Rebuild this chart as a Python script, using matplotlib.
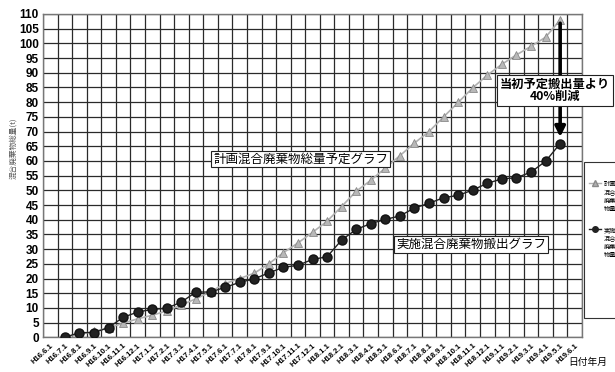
import matplotlib
matplotlib.use("Agg")
import matplotlib.pyplot as plt
from matplotlib.patches import Rectangle
from matplotlib.lines import Line2D
import numpy as np

plt.rcParams['font.family'] = ['Liberation Sans', 'Noto Sans CJK JP', 'DejaVu Sans']

labels = ["H16.6.1", "H16.7.1", "H16.8.1", "H16.9.1", "H16.10.1", "H16.11.1", "H16.12.1",
          "H17.1.1", "H17.2.1", "H17.3.1", "H17.4.1", "H17.5.1", "H17.6.1", "H17.7.1",
          "H17.8.1", "H17.9.1", "H17.10.1", "H17.11.1", "H17.12.1",
          "H18.1.1", "H18.2.1", "H18.3.1", "H18.4.1", "H18.5.1", "H18.6.1", "H18.7.1",
          "H18.8.1", "H18.9.1", "H18.10.1", "H18.11.1", "H18.12.1",
          "H19.1.1", "H19.2.1", "H19.3.1", "H19.4.1", "H19.5.1", "H19.6.1"]

# values start at H16.7.1 (index 1) and end at H19.5.1
plan = [0, 1.0, 2.0, 3.2, 4.8, 6.3, 7.5, 9.0, 11.0, 13.1, 15.5, 18.3, 20.0, 21.8,
        25.0, 28.8, 32.1, 35.7, 39.5, 44.5, 49.7, 53.4, 57.6, 61.8, 66.1, 70.0,
        75.0, 79.9, 84.9, 89.2, 92.9, 96.1, 99.0, 102.1, 108.0]
actual = [0, 1.6, 1.6, 3.3, 6.8, 8.6, 9.5, 9.9, 12.0, 15.4, 15.4, 17.0, 18.7, 19.9,
          21.9, 23.8, 24.5, 26.5, 27.4, 33.1, 36.7, 38.7, 40.1, 41.3, 44.0, 45.6,
          47.5, 48.3, 50.1, 52.4, 53.9, 54.3, 56.2, 59.9, 65.9]
start_index = 1

W, H = 615, 372
fig = plt.figure(figsize=(W / 100, H / 100), dpi=100)
L, R, T, B = 43, 582, 14, 337.3
ax = fig.add_axes([L / W, 1 - B / H, (R - L) / W, (B - T) / H])

x = np.arange(start_index, start_index + len(plan))
ax.plot(x, plan, color='#b0b0b0', lw=1.2, marker='^', ms=5.5,
        mfc='#b8b8b8', mec='#8a8a8a', mew=0.6, zorder=3)
ax.plot(x, actual, color='#222222', lw=1.0, marker='o', ms=6.5,
        mfc='#222222', mec='#111111', zorder=4)

ax.set_xlim(-0.5, len(labels) - 0.5)
ax.set_ylim(0, 110)
ax.set_yticks(np.arange(0, 111, 5))
ax.set_yticklabels([str(v) for v in range(0, 111, 5)], fontsize=8.5, fontweight='bold')
ax.set_xticks(np.arange(len(labels)))
ax.set_xticklabels(labels, rotation=42, ha='right', rotation_mode='anchor',
                   fontsize=5.6, fontweight='bold')
ax.set_xticks(np.arange(-0.5, len(labels), 1), minor=True)
ax.tick_params(axis='x', which='both', length=0, pad=3.5)
ax.tick_params(axis='y', length=0, pad=3)
ax.grid(True, which='minor', axis='x', color='#2a2a2a', lw=0.9)
ax.grid(True, which='major', axis='y', color='#2a2a2a', lw=0.9)
ax.set_axisbelow(True)
for s in ax.spines.values():
    s.set_color('#777777')
    s.set_linewidth(1.0)

cjk = ['Noto Sans CJK JP', 'DejaVu Sans']
fig.text(13 / W, 1 - 148 / H, '混合廃棄物総量(t)', rotation=90, ha='center', va='center',
         fontsize=5.5, color='#555555', family=cjk)

ax.text(17.2, 60.7, '計画混合廃棄物総量予定グラフ', ha='center', va='center',
        fontsize=9, family=cjk, zorder=6,
        bbox=dict(boxstyle='square,pad=0.15', fc='white', ec='#222222', lw=0.8))
ax.text(28.9, 31.6, '実施混合廃棄物搬出グラフ', ha='center', va='center',
        fontsize=9, family=cjk, zorder=6,
        bbox=dict(boxstyle='square,pad=0.15', fc='white', ec='#222222', lw=0.8))

ax.annotate('', xy=(35, 67.2), xytext=(35, 107.8),
            arrowprops=dict(arrowstyle='-|>', lw=2.6, color='black', mutation_scale=15),
            zorder=5, annotation_clip=False)
ax.text(34.65, 84.0, '当初予定搬出量より\n40%削減', ha='center', va='center',
        fontsize=8.8, fontweight='bold', family=cjk, linespacing=1.0, zorder=7,
        clip_on=False,
        bbox=dict(boxstyle='square,pad=0.2', fc='white', ec='#222222', lw=0.8))

fig.text(588 / W, 1 - 362 / H, '日付年月', ha='center', va='center', fontsize=7,
         family=cjk)

# legend box (cut off at the right edge)
fig.patches.append(Rectangle((584 / W, 1 - 318 / H), 0.2, (318 - 162) / H,
                             transform=fig.transFigure, fc='white', ec='#333333', lw=0.8))
fig.lines.append(Line2D([589 / W, 601 / W], [1 - 183 / H, 1 - 183 / H],
                        transform=fig.transFigure, color='#b0b0b0', lw=1.0))
fig.lines.append(Line2D([595 / W], [1 - 183 / H], transform=fig.transFigure,
                        color='#b0b0b0', marker='^', ms=4, mec='#8a8a8a', lw=0))
fig.lines.append(Line2D([589 / W, 601 / W], [1 - 229 / H, 1 - 229 / H],
                        transform=fig.transFigure, color='#222222', lw=1.0))
fig.lines.append(Line2D([595 / W], [1 - 229 / H], transform=fig.transFigure,
                        color='#222222', marker='o', ms=4, lw=0))
fig.text(604 / W, 1 - 180 / H, '計画\n混合\n廃棄\n物量', ha='left', va='top',
         fontsize=4.5, family=cjk, linespacing=1.05)
fig.text(604 / W, 1 - 226 / H, '実施\n混合\n廃棄\n物量', ha='left', va='top',
         fontsize=4.5, family=cjk, linespacing=1.05)

fig.savefig('out.png', dpi=100)
